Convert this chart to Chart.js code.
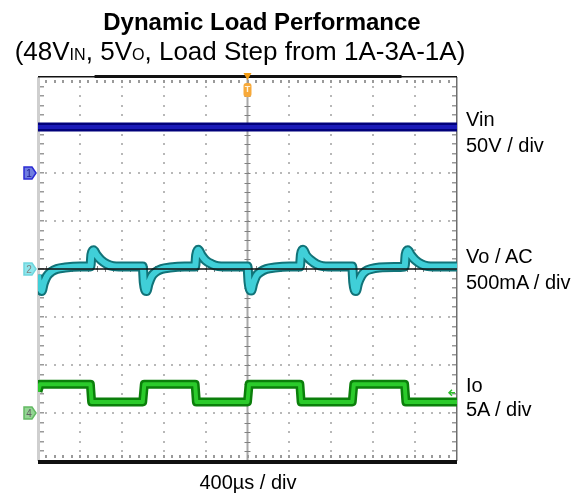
<!DOCTYPE html>
<html>
<head>
<meta charset="utf-8">
<script src="https://cdn.jsdelivr.net/npm/chart.js"></script>
<style>
  body { margin: 0; background: #fff; }
  #wrap { position: relative; width: 585px; height: 498px; font-family: "Liberation Sans", Arial, sans-serif; color: #000; }
  #wrap canvas { position: absolute; left: 0; top: 0; }
  .txt { position: absolute; white-space: nowrap; line-height: 1; }
  .title { font-size: 24px; font-weight: bold; left: 20px; width: 484px; text-align: center; top: 10px; }
  .sub { font-size: 26px; left: -2px; width: 484px; text-align: center; top: 38px; }
  .sc { font-size: 0.62em; }
  .lbl { font-size: 20px; left: 466px; }
  .xlbl { font-size: 20px; left: 148px; width: 200px; text-align: center; top: 472px; }
</style>
</head>
<body>
<div id="wrap">
  <canvas id="scope" width="585" height="498"></canvas>
  <div class="txt title">Dynamic Load Performance</div>
  <div class="txt sub">(48V<span class="sc">IN</span>, 5V<span class="sc">O</span>, Load Step from 1A-3A-1A)</div>
  <div class="txt lbl" style="top:109px">Vin</div>
  <div class="txt lbl" style="top:135px">50V / div</div>
  <div class="txt lbl" style="top:246px">Vo / AC</div>
  <div class="txt lbl" style="top:272px">500mA / div</div>
  <div class="txt lbl" style="top:375px">Io</div>
  <div class="txt lbl" style="top:399px">5A / div</div>
  <div class="txt xlbl">400µs / div</div>
</div>
<script>
// time in µs, levels in screen divisions (0 = centre line)
const usPerDiv = 400;
const xDivs = 10;
const yDivs = 8;

const vinTime = [0, 4000];
const vinLevel = [2.96, 2.96];

const voTime = [
  0, 10, 35, 55, 85, 125, 180, 260, 400, 500, 510, 530, 560, 600, 660, 720, 850, 1000,
  1010, 1035, 1055, 1085, 1125, 1180, 1260, 1400, 1500, 1510, 1530, 1560, 1600, 1660, 1720, 1850, 2000,
  2010, 2035, 2055, 2085, 2125, 2180, 2260, 2400, 2500, 2510, 2530, 2560, 2600, 2660, 2720, 2850, 3000,
  3010, 3035, 3055, 3085, 3125, 3180, 3260, 3400, 3500, 3510, 3530, 3560, 3600, 3660, 3720, 3850, 4000
];
const voLevel = [
  -0.12, -0.30, -0.46, -0.30, -0.15, -0.06, 0.00, 0.03, 0.05, 0.05, 0.30, 0.39, 0.29, 0.19, 0.10, 0.06, 0.05, 0.05,
  -0.28, -0.46, -0.31, -0.15, -0.06, 0.00, 0.03, 0.05, 0.05, 0.29, 0.40, 0.29, 0.18, 0.10, 0.06, 0.05, 0.05,
  -0.27, -0.45, -0.30, -0.14, -0.06, 0.00, 0.03, 0.05, 0.05, 0.30, 0.40, 0.28, 0.19, 0.10, 0.06, 0.05, 0.05,
  -0.28, -0.46, -0.30, -0.15, -0.05, 0.00, 0.03, 0.04, 0.05, 0.30, 0.39, 0.29, 0.19, 0.10, 0.06, 0.05, 0.05
];

const refTime = [0, 4000];
const refLevel = [0, 0];

const ioTime = [0, 20, 500, 512, 1000, 1015, 1500, 1512, 2000, 2015, 2500, 2512, 3000, 3015, 3500, 3512, 4000];
const ioLevel = [-2.55, -2.40, -2.40, -2.77, -2.77, -2.40, -2.40, -2.77, -2.77, -2.40, -2.40, -2.77, -2.77, -2.40, -2.40, -2.77, -2.77];

// channel ground markers and trigger
const ch1Marker = 2;
const ch2Marker = 0;
const ch4Marker = -3;
const trigTime = 2000;
const trigLevel = -2.58;

const pts = (t, v) => t.map((x, i) => ({ x: x, y: v[i] }));

function trace(data, color, width, order, smooth) {
  return {
    data: data,
    borderColor: color,
    borderWidth: width,
    pointRadius: 0,
    cubicInterpolationMode: smooth ? 'monotone' : 'default',
    tension: 0,
    order: order,
    borderJoinStyle: 'round'
  };
}

const scopeGrid = {
  id: 'scopeGrid',
  beforeDatasetsDraw(chart) {
    const { ctx, chartArea: a, scales: { x, y } } = chart;
    ctx.save();
    // dotted division lines
    ctx.fillStyle = '#b8b8b8';
    for (let i = 1; i < xDivs; i++) {
      if (i === xDivs / 2) continue;
      const px = x.getPixelForValue(i * usPerDiv);
      for (let k = 1; k < yDivs * 5; k++) {
        const py = y.getPixelForValue(-yDivs / 2 + k * 0.2);
        ctx.fillRect(Math.round(px) - 1, Math.round(py) - 1, 2, 2);
      }
    }
    for (let j = 1; j < yDivs; j++) {
      const py = y.getPixelForValue(-yDivs / 2 + j);
      for (let k = 1; k < xDivs * 5; k++) {
        const px = x.getPixelForValue(k * usPerDiv / 5);
        ctx.fillRect(Math.round(px) - 1, Math.round(py) - 1, 2, 2);
      }
    }
    // centre vertical axis with ticks
    const cx = x.getPixelForValue(xDivs / 2 * usPerDiv);
    ctx.strokeStyle = '#a8a8a8';
    ctx.lineWidth = 2;
    ctx.beginPath();
    ctx.moveTo(cx, a.top);
    ctx.lineTo(cx, a.bottom);
    ctx.stroke();
    ctx.strokeStyle = '#808080';
    ctx.lineWidth = 1;
    for (let k = 1; k < yDivs * 5; k++) {
      const py = Math.round(y.getPixelForValue(-yDivs / 2 + k * 0.2)) + 0.5;
      ctx.beginPath();
      ctx.moveTo(cx - 3, py);
      ctx.lineTo(cx + 3, py);
      ctx.stroke();
    }
    // centre horizontal ticks
    const cy = y.getPixelForValue(0);
    for (let k = 1; k < xDivs * 5; k++) {
      const px = Math.round(x.getPixelForValue(k * usPerDiv / 5)) + 0.5;
      ctx.beginPath();
      ctx.moveTo(px, cy - 3);
      ctx.lineTo(px, cy + 3);
      ctx.stroke();
    }
    // edge ticks
    ctx.fillStyle = '#9a9a9a';
    for (let k = 1; k < xDivs * 5; k++) {
      const px = Math.round(x.getPixelForValue(k * usPerDiv / 5));
      ctx.fillRect(px - 1, a.top + 3, 2, 3);
      ctx.fillRect(px - 1, a.bottom - 6, 2, 3);
    }
    for (let k = 1; k < yDivs * 5; k++) {
      const py = Math.round(y.getPixelForValue(-yDivs / 2 + k * 0.2));
      ctx.fillRect(a.left + 2, py - 1, 4, 1.5);
      ctx.fillRect(a.right - 5, py - 1, 4, 1.5);
    }
    // frame
    ctx.fillStyle = '#cfcfcf';
    ctx.fillRect(a.left - 1, a.top, 3, a.bottom - a.top);
    ctx.fillStyle = '#6e6e6e';
    ctx.fillRect(a.right - 1, a.top, 1.5, a.bottom - a.top);
    ctx.fillStyle = '#111';
    ctx.fillRect(a.left, a.top - 1, a.right - a.left, 1.5);
    ctx.fillRect(x.getPixelForValue(540), a.top - 2, x.getPixelForValue(3470) - x.getPixelForValue(540), 3);
    ctx.fillRect(a.left, a.bottom - 1, a.right - a.left, 4);
    ctx.restore();
  },
  afterDatasetsDraw(chart) {
    const { ctx, chartArea: a, scales: { x, y } } = chart;
    ctx.save();
    const marker = (level, fill, stroke, label, txt) => {
      const py = y.getPixelForValue(level);
      const l = a.left - 14, r = a.left - 2;
      ctx.beginPath();
      ctx.moveTo(l, py - 6);
      ctx.lineTo(r - 4, py - 6);
      ctx.lineTo(r, py);
      ctx.lineTo(r - 4, py + 6);
      ctx.lineTo(l, py + 6);
      ctx.closePath();
      ctx.fillStyle = fill;
      ctx.fill();
      ctx.strokeStyle = stroke;
      ctx.lineWidth = 1.5;
      ctx.stroke();
      ctx.fillStyle = txt;
      ctx.font = '10px "Liberation Sans", Arial, sans-serif';
      ctx.textAlign = 'center';
      ctx.textBaseline = 'middle';
      ctx.fillText(label, l + 5, py + 1);
    };
    marker(ch1Marker, '#6f7de0', '#2b2bd4', '1', '#1c1c90');
    marker(ch2Marker, '#8ee6ec', '#6fd6de', '2', '#808080');
    marker(ch4Marker, '#93d593', '#63b963', '4', '#606060');

    // trigger position
    const tx = x.getPixelForValue(trigTime);
    ctx.fillStyle = '#f39c12';
    ctx.beginPath();
    ctx.moveTo(tx - 4, a.top - 4);
    ctx.lineTo(tx + 4, a.top - 4);
    ctx.lineTo(tx, a.top + 3);
    ctx.closePath();
    ctx.fill();
    ctx.fillStyle = '#f7a93a';
    ctx.beginPath();
    ctx.roundRect(tx - 4, a.top + 6, 8, 14, 3);
    ctx.fill();
    ctx.fillStyle = '#fff3dc';
    ctx.font = 'bold 9px "Liberation Sans", Arial, sans-serif';
    ctx.textAlign = 'center';
    ctx.textBaseline = 'middle';
    ctx.fillText('T', tx, a.top + 13);

    // trigger level arrow
    const ty = y.getPixelForValue(trigLevel);
    ctx.strokeStyle = '#2fbf2f';
    ctx.lineWidth = 1.5;
    ctx.beginPath();
    ctx.moveTo(a.right - 2, ty);
    ctx.lineTo(a.right - 8, ty);
    ctx.moveTo(a.right - 5, ty - 3);
    ctx.lineTo(a.right - 8, ty);
    ctx.lineTo(a.right - 5, ty + 3);
    ctx.stroke();
    ctx.restore();
  }
};

new Chart(document.getElementById('scope'), {
  type: 'line',
  data: {
    datasets: [
      trace(pts(refTime, refLevel), '#111', 1.5, 0),
      trace(pts(voTime, voLevel), '#40cfd8', 6, 1, true),
      trace(pts(voTime, voLevel), '#117378', 10, 2, true),
      trace(pts(ioTime, ioLevel), '#2bcb2b', 4, 3),
      trace(pts(ioTime, ioLevel), '#0b7f0b', 9, 4),
      trace(pts(vinTime, vinLevel), '#1a1ab8', 4, 5),
      trace(pts(vinTime, vinLevel), '#00007a', 9, 6)
    ]
  },
  options: {
    responsive: false,
    animation: false,
    layout: { padding: { left: 38, top: 77, right: 128, bottom: 37 } },
    plugins: { legend: { display: false }, tooltip: { enabled: false } },
    scales: {
      x: { type: 'linear', min: 0, max: xDivs * usPerDiv, display: false },
      y: { type: 'linear', min: -yDivs / 2, max: yDivs / 2, display: false }
    }
  },
  plugins: [scopeGrid]
});
</script>
</body>
</html>
